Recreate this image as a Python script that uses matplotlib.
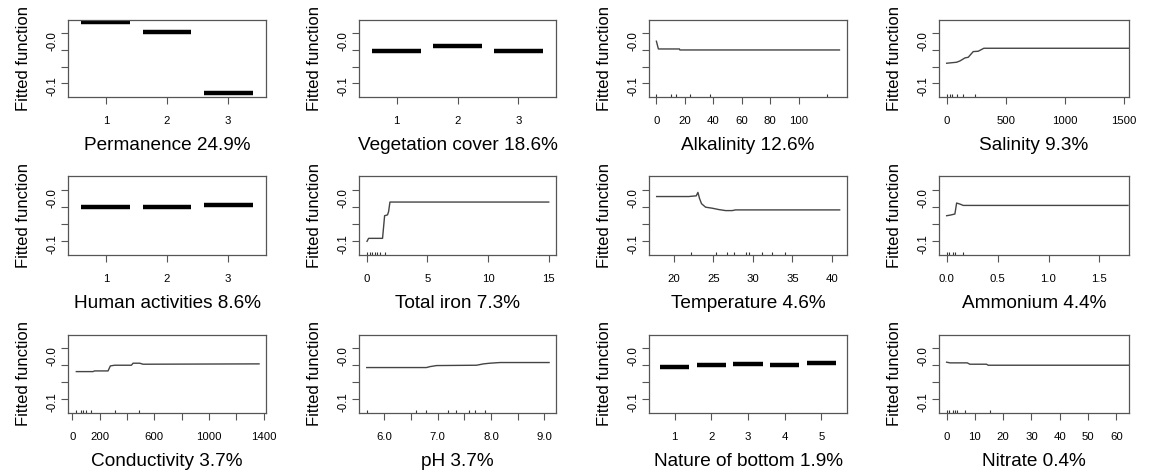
import numpy as np
import matplotlib
matplotlib.use('Agg')
import matplotlib.pyplot as plt

plt.rcParams['font.family'] = ['Liberation Sans', 'DejaVu Sans']

# y axis shared by every panel: tick marks and the (offset) labels
y_marks = [0.0, -0.04, -0.08, -0.12]
y_label_pos = [-0.019, -0.127]
y_labels = ['-0.0', '-0.1']
y_lim = (-0.153, 0.032)

# panel titles (x labels)
titles = ['Permanence 24.9%', 'Vegetation cover 18.6%', 'Alkalinity 12.6%', 'Salinity 9.3%',
          'Human activities 8.6%', 'Total iron 7.3%', 'Temperature 4.6%', 'Ammonium 4.4%',
          'Conductivity 3.7%', 'pH 3.7%', 'Nature of bottom 1.9%', 'Nitrate 0.4%']

# categorical predictors
permanence_vals = [0.026, 0.002, -0.144]
vegetation_vals = [-0.042, -0.030, -0.042]
human_vals = [-0.041, -0.041, -0.035]
bottom_vals = [-0.043, -0.039, -0.036, -0.038, -0.034]

# continuous predictors
alk_x = [0, 1.4, 16.2, 16.5, 128.7]
alk_y = [-0.019, -0.0376, -0.0376, -0.040, -0.040]
alk_rug = [0, 10.4, 13.9, 23.3, 37.4, 119.8]

sal_x = [0, 84, 113, 155, 183, 225, 267, 315, 1540]
sal_y = [-0.0719, -0.0695, -0.0663, -0.0591, -0.0575, -0.0439, -0.0431, -0.0359, -0.0359]
sal_rug = [0, 28, 42, 84, 141, 239]

iron_x = [0.03, 0.16, 1.31, 1.48, 1.72, 1.81, 1.92, 15.0]
iron_y = [-0.121, -0.114, -0.114, -0.061, -0.059, -0.051, -0.029, -0.029]
iron_rug = [0.05, 0.27, 0.47, 0.68, 0.88, 1.09, 1.5]

temp_x = [17.81, 21.89, 22.32, 22.82, 23.03, 23.24, 23.49, 24.0, 24.84, 25.68, 26.53, 27.37, 27.79, 40.97]
temp_y = [-0.0161, -0.0161, -0.0153, -0.0145, -0.0064, -0.0209, -0.0329, -0.041, -0.0434,
          -0.0466, -0.049, -0.049, -0.0474, -0.0474]
temp_rug = [22.1, 25.3, 26.7, 27.6, 29.1, 29.5, 31.2, 32.4, 34.1]

amm_x = [0, 0.039, 0.081, 0.098, 0.130, 0.163, 1.78]
amm_y = [-0.061, -0.0594, -0.057, -0.0313, -0.0337, -0.0369, -0.0369]
amm_rug = [0.007, 0.026, 0.059, 0.081, 0.163]

cond_x = [29, 151, 163, 261, 278, 310, 432, 444, 493, 517, 1366]
cond_y = [-0.0548, -0.0548, -0.0532, -0.0532, -0.0413, -0.0397, -0.0397, -0.0349, -0.0349,
          -0.0373, -0.0365]
cond_rug = [29, 66, 78, 98, 139, 310, 488]

ph_x = [5.67, 6.79, 6.86, 6.98, 7.73, 7.86, 7.98, 8.17, 9.09]
ph_y = [-0.0452, -0.0452, -0.0429, -0.0405, -0.0397, -0.0365, -0.0349, -0.0333, -0.0333]
ph_rug = [5.67, 6.59, 6.79, 7.2, 7.34, 7.59, 7.7, 7.88]

nit_x = [0, 1.2, 7.3, 8.2, 14.1, 14.7, 64.5]
nit_y = [-0.0325, -0.0341, -0.0341, -0.0373, -0.0373, -0.0397, -0.0397]
nit_rug = [0.2, 0.9, 2.1, 2.8, 3.5, 6.5, 15.3]

# axes placement in pixels
W, H = 1149, 471
col_left = [68, 359, 649, 939]
col_width = [198, 197, 198, 190]
row_top = [20, 176, 335]
row_height = [77, 79, 78]

fig = plt.figure(figsize=(W / 100, H / 100), dpi=100)
axes = []
for r in range(3):
    for c in range(4):
        ax = fig.add_axes([col_left[c] / W, 1 - (row_top[r] + row_height[r]) / H,
                           col_width[c] / W, row_height[r] / H])
        axes.append(ax)

box_col = '#555555'
line_col = '#444444'


def setup(ax, title, xticks, xticklabels, xlim):
    ax.set_ylim(*y_lim)
    ax.set_xlim(*xlim)
    # tick marks as minor ticks, labels as major ticks without marks
    ax.set_yticks(y_marks, minor=True)
    ax.set_yticks(y_label_pos)
    ax.set_yticklabels(y_labels, fontsize=8.3, rotation=90, va='center')
    ax.tick_params(axis='y', which='minor', length=5, width=0.8, color=box_col, direction='out')
    ax.tick_params(axis='y', which='major', length=5, color='none', pad=1.5)
    ax.set_xticks(xticks)
    ax.set_xticklabels(xticklabels, fontsize=8.2)
    ax.tick_params(axis='x', length=5, width=0.8, color=box_col, direction='out', pad=8.6)
    ax.set_ylabel('Fitted function', fontsize=12, labelpad=11.5)
    ax.set_xlabel(title, fontsize=13.7, labelpad=8)
    for s in ax.spines.values():
        s.set_color(box_col)
        s.set_linewidth(0.9)


def cat_panel(ax, vals, title):
    lev = np.arange(1, len(vals) + 1)
    ax.hlines(vals, lev - 0.4, lev + 0.4, color='black', lw=3.2)
    pad = 0.62 if len(vals) == 3 else 0.7
    setup(ax, title, lev, [str(v) for v in lev], (1 - pad, len(vals) + pad))


def line_panel(ax, x, y, rug, title, xticks, xticklabels, xlim):
    ax.plot(x, y, color=line_col, lw=1.0)
    ax.vlines(rug, 0, 0.035, transform=ax.get_xaxis_transform(), color='#333333', lw=0.8)
    setup(ax, title, xticks, xticklabels, xlim)


cat_panel(axes[0], permanence_vals, titles[0])
cat_panel(axes[1], vegetation_vals, titles[1])
line_panel(axes[2], alk_x, alk_y, alk_rug, titles[2], [0, 20, 40, 60, 80, 100],
           ['0', '20', '40', '60', '80', '100'], (-5.2, 134))
line_panel(axes[3], sal_x, sal_y, sal_rug, titles[3], [0, 500, 1000, 1500],
           ['0', '500', '1000', '1500'], (-65, 1545))
cat_panel(axes[4], human_vals, titles[4])
line_panel(axes[5], iron_x, iron_y, iron_rug, titles[5], [0, 5, 10, 15],
           ['0', '5', '10', '15'], (-0.63, 15.6))
line_panel(axes[6], temp_x, temp_y, temp_rug, titles[6], [20, 25, 30, 35, 40],
           ['20', '25', '30', '35', '40'], (16.84, 41.9))
line_panel(axes[7], amm_x, amm_y, amm_rug, titles[7], [0, 0.5, 1.0, 1.5],
           ['0.0', '0.5', '1.0', '1.5'], (-0.075, 1.79))
line_panel(axes[8], cond_x, cond_y, cond_rug, titles[8], [0, 200, 400, 600, 800, 1000, 1200, 1400],
           ['0', '200', '', '600', '', '1000', '', '1400'], (-32, 1417))
line_panel(axes[9], ph_x, ph_y, ph_rug, titles[9], [6.0, 6.5, 7.0, 7.5, 8.0, 8.5, 9.0],
           ['6.0', '', '7.0', '', '8.0', '', '9.0'], (5.525, 9.22))
cat_panel(axes[10], bottom_vals, titles[10])
line_panel(axes[11], nit_x, nit_y, nit_rug, titles[11], [0, 10, 20, 30, 40, 50, 60],
           ['0', '10', '20', '30', '40', '50', '60'], (-2.7, 64.5))

fig.savefig('out.png', dpi=100)
